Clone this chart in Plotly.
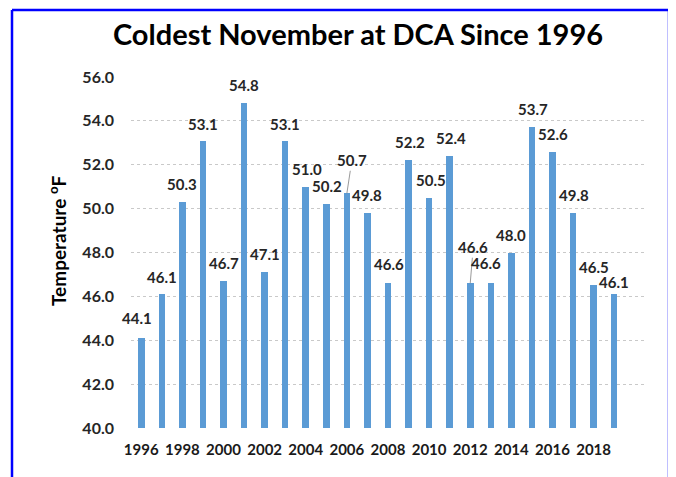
import plotly.graph_objects as go

years = list(range(1996, 2020))
temps = [44.1, 46.1, 50.3, 53.1, 46.7, 54.8, 47.1, 53.1, 51.0, 50.2, 50.7, 49.8,
         46.6, 52.2, 50.5, 52.4, 46.6, 46.6, 48.0, 53.7, 52.6, 49.8, 46.5, 46.1]
label_text = [f"{v:.1f}" for v in temps]
year_ticks = list(range(1996, 2019, 2))
temp_ticks = [40 + 2 * i for i in range(9)]

# label offsets in pixels (style): (dx, dy above bar top), leader line flag
label_dx = [-4, 0, 0, 0, 0, 0, 0, 0, 1, 1, 5, 0, 1, 1, 2, 1, 3, -5, 0, 1, 1, 1, 0, 0]
label_dy = [20, 17, 18, 17, 18, 18, 18, 17, 18, 18, 33, 18, 19, 18, 18, 18, 36, 20, 18, 18, 18, 18, 18, 12]
leader = [False] * 24
leader[10] = True
leader[16] = True

BLUE = "#5B9BD5"
TXT = "#262626"
FONT = "Lato"
OFF = 8  # page body margin offset

# target plot area in screen pixels
PL, PR, PT, PB = 131, 645, 77, 428
PW, PH = PR - PL, PB - PT

fig = go.Figure()
fig.add_trace(go.Bar(x=years, y=temps, width=0.32, marker_color=BLUE,
                     marker_line_width=0, hoverinfo="x+y"))

annotations = []
for x, v, t, dx, dy, ld in zip(years, temps, label_text, label_dx, label_dy, leader):
    f = dict(family=FONT, size=15, color=TXT, weight="bold")
    if ld:
        annotations.append(dict(x=x, y=v, xref="x", yref="y", text=t,
                                showarrow=True, arrowhead=0, arrowwidth=0.8,
                                arrowcolor="#7f7f7f", ax=dx, ay=-dy, standoff=0, font=f))
    else:
        annotations.append(dict(x=x, y=v, xref="x", yref="y", text=t,
                                showarrow=False, xshift=dx, yshift=dy, font=f))

annotations.append(dict(text="Temperature <sup>o</sup>F", xref="paper", yref="paper",
                        x=(57 - PL) / PW, y=(PB - 241) / PH, xanchor="center",
                        yanchor="middle", textangle=-90, showarrow=False,
                        font=dict(family=FONT, size=19, color="black", weight="bold")))

def px_x(sx):
    return (sx - PL) / PW

def px_y(sy):
    return (PB - sy) / PH

border = dict(color="#0000ff", width=2.5)
shapes = [
    dict(type="line", xref="paper", yref="paper", x0=px_x(12), x1=px_x(12),
         y0=px_y(10), y1=px_y(500), line=border),
    dict(type="line", xref="paper", yref="paper", x0=px_x(12), x1=px_x(669),
         y0=px_y(10), y1=px_y(10), line=border),
    dict(type="line", xref="paper", yref="paper", x0=px_x(669), x1=px_x(669),
         y0=px_y(10), y1=px_y(500), line=border),
]

fig.update_layout(
    width=676, height=477,
    margin=dict(l=PL - OFF, r=676 - (PL - OFF) - PW, t=PT - OFF, b=477 - (PT - OFF) - PH),
    paper_bgcolor="white", plot_bgcolor="white",
    showlegend=False,
    bargap=0,
    title=dict(text="Coldest November at DCA Since 1996", x=(358 - OFF) / 676, xref="container",
               xanchor="center", y=1 - (35 - OFF) / 477, yref="container", yanchor="middle",
               font=dict(family=FONT, size=29, color="black", weight="bold")),
    xaxis=dict(range=[1995.5, 2020.5], tickmode="array", tickvals=year_ticks,
               ticktext=[str(y) for y in year_ticks], showgrid=False, zeroline=False,
               showline=False, ticks="", ticklabelstandoff=11,
               tickfont=dict(family=FONT, size=15, color="#1a1a1a", weight="bold")),
    yaxis=dict(range=[40, 56], tickmode="array", tickvals=temp_ticks,
               ticktext=[f"{v:.1f}" for v in temp_ticks], showgrid=True,
               gridcolor="#c9c9c9", griddash="dot", gridwidth=1, zeroline=False,
               showline=False, ticks="", ticklabelstandoff=16,
               tickfont=dict(family=FONT, size=16, color=TXT, weight="bold")),
    annotations=annotations,
    shapes=shapes,
)

fig.write_html("out.html")
